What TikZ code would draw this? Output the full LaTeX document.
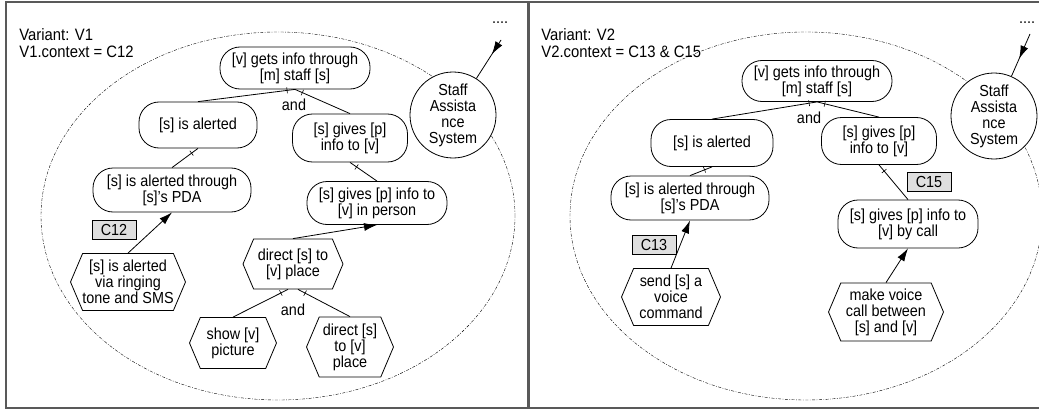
\documentclass[tikz,border=0pt]{standalone}
\usepackage{fontspec}
\setmainfont{Liberation Sans}[FakeStretch=0.9]
\usetikzlibrary{shapes.symbols,arrows.meta,decorations.markings}

\begin{document}
\begin{tikzpicture}[x=1pt,y=-1pt,line width=0.8pt,
	goal/.style={shape=rectangle,draw,fill=white,rounded corners=20pt,align=center,inner sep=1pt,font=\fontsize{16}{16}\selectfont},
	task/.style={shape=signal,signal to=west and east,signal pointer angle=134,draw,fill=white,align=center,inner xsep=-4pt,inner ysep=1pt,font=\fontsize{16}{16}\selectfont},
	ctx/.style={shape=rectangle,draw,fill=gray!25,minimum width=44pt,minimum height=19pt,inner sep=0pt,font=\fontsize{16}{16}\selectfont},
	actor/.style={shape=circle,draw,fill=white,align=center,minimum size=86pt,inner sep=0pt,font=\fontsize{16}{16}\selectfont},
	boundary/.style={line width=0.4pt,dash pattern=on 3pt off 1.5pt on 0.8pt off 1.5pt},
	panel/.style={draw=black!65,line width=1.5pt},
	decomp/.style={postaction={decorate,decoration={markings,mark=at position 8pt with {\draw[line width=0.6pt] (0,-3pt) -- (0,3pt);}}}},
	means/.style={-{Latex[length=13pt,width=8pt]}},
	depend/.style={postaction={decorate,decoration={markings,mark=at position #1 with {\arrow{Latex[length=13pt,width=8pt]}}}}},
	lbl/.style={inner sep=0pt,font=\fontsize{16}{16}\selectfont}]
	\useasboundingbox (0,0) rectangle (1039,412);

	% variant V1
	\draw[panel] (6,2) rectangle (528,408);
	\draw[boundary] (278,216) ellipse [x radius=237pt,y radius=184pt];
	\node (headA) at (19,28)[anchor=north west,align=left,inner sep=0pt,font=\fontsize{16.5}{17.5}\selectfont] {Variant: V1\\V1.context = C12};
	\node (dotsA) at (500,24)[anchor=base,lbl] {....};
	\coordinate (srcA) at (501,40);
	\node (sysA) at (453,115)[actor] {Staff\\Assista\\nce\\System};

	\node (topA) at (295,68)[goal,minimum width=150pt,minimum height=42pt] {[v] gets info through\\{[m]} staff [s]};
	\node (alertA) at (198,125)[goal,minimum width=118pt,minimum height=46pt] {[s] is alerted};
	\node (givesA) at (350,138)[goal,minimum width=115pt,minimum height=48pt] {[s] gives [p]\\info to [v]};
	\node (pdaA) at (172,190)[goal,minimum width=158pt,minimum height=44pt] {[s] is alerted through\\{[s]}'s PDA};
	\node (personA) at (377,203)[goal,minimum width=140pt,minimum height=43pt] {[s] gives [p] info to\\{[v]} in person};
	\node (smsA) at (128,282)[task,minimum width=115pt,minimum height=57pt] {[s] is alerted\\via ringing\\tone and SMS};
	\node (directA) at (293,264)[task,minimum width=100pt,minimum height=50pt] {direct [s] to\\{[v]} place};
	\node (showA) at (233,343)[task,minimum width=87pt,minimum height=51pt] {show [v]\\picture};
	\node (placeA) at (350,347)[task,minimum width=87pt,minimum height=60pt] {direct [s]\\to [v]\\place};
	\node (ctxA) at (114,230)[ctx] {C12};
	\node (andA) at (294,105)[lbl] {and};
	\node (andB) at (293,310)[lbl] {and};

	\draw[depend=17pt] (srcA) -- (sysA);
	\draw[decomp] (topA.south) -- (alertA.north);
	\draw[decomp] (topA.south) -- (givesA.north);
	\draw[decomp] (alertA.south) -- (pdaA.north);
	\draw[decomp] (givesA.south) -- (personA.north);
	\draw[means] (smsA.north) -- (pdaA.south);
	\draw[means] (directA.north) -- (personA.south);
	\draw[decomp] ([xshift=-5pt]directA.south) -- (showA.north);
	\draw[decomp] ([xshift=5pt]directA.south) -- (placeA.north);

	% variant V2
	\draw[panel] (529,2) rectangle (1046,408);
	\draw[boundary] (806,216) ellipse [x radius=236pt,y radius=184pt];
	\node (headB) at (541,28)[anchor=north west,align=left,inner sep=0pt,font=\fontsize{16.5}{17.5}\selectfont] {Variant: V2\\V2.context = C13 \& C15};
	\node (dotsB) at (1027,24)[anchor=base,lbl] {....};
	\coordinate (srcB) at (1030,34);
	\node (sysB) at (994,116)[actor] {Staff\\Assista\\nce\\System};

	\node (topB) at (817,81)[goal,minimum width=150pt,minimum height=41pt] {[v] gets info through\\{[m]} staff [s]};
	\node (alertB) at (712,143)[goal,minimum width=122pt,minimum height=47pt] {[s] is alerted};
	\node (givesB) at (879,141)[goal,minimum width=115pt,minimum height=47pt] {[s] gives [p]\\info to [v]};
	\node (pdaB) at (690,198)[goal,minimum width=158pt,minimum height=44pt] {[s] is alerted through\\{[s]}'s PDA};
	\node (callB) at (908,224)[goal,minimum width=140pt,minimum height=48pt] {[s] gives [p] info to\\{[v]} by call};
	\node (voiceB) at (671,297)[task,minimum width=99pt,minimum height=57pt] {send [s] a\\voice\\command};
	\node (makeB) at (886,312)[task,minimum width=115pt,minimum height=58pt] {make voice\\call between\\{[s]} and [v]};
	\node (ctxB) at (654,245)[ctx] {C13};
	\node (ctxC) at (929,182)[ctx] {C15};
	\node (andC) at (809,118)[lbl] {and};

	\draw[depend=27pt] (srcB) -- (sysB);
	\draw[decomp] (topB.south) -- (alertB.north);
	\draw[decomp] (topB.south) -- (givesB.north);
	\draw[decomp] (alertB.south) -- (pdaB.north);
	\draw[decomp] (givesB.south) -- (callB.north);
	\draw[means] (voiceB.north) -- (pdaB.south);
	\draw[means] (makeB.north) -- (callB.south);
\end{tikzpicture}
\end{document}
